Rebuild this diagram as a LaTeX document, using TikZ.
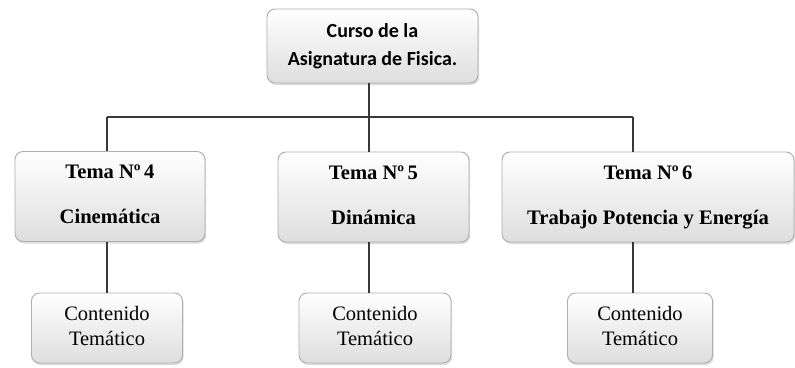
\documentclass[tikz,border=0pt]{standalone}
\usepackage{fontspec}
\setmainfont{Liberation Serif}
\setsansfont{Carlito}
\usepackage{tikz}
\usetikzlibrary{positioning,shadows,calc}
\colorlet{boxLine}{black!32}
\colorlet{boxTop}{white}
\colorlet{boxBottom}{black!13}
\colorlet{treeLine}{black!78}
\tikzset{
  % shared look of every box in the tree
  treebox/.style={
    rounded corners=8pt,
    draw=boxLine,
    line width=0.9pt,
    top color=boxTop,
    bottom color=boxBottom,
    drop shadow={shadow xshift=1.2pt,shadow yshift=-2pt,opacity=0.28},
    align=center,
    inner sep=2pt
  },
  rootbox/.style={
    treebox,
    minimum width=211pt,
    minimum height=74pt,
    font=\sffamily\bfseries\fontsize{20}{28}\selectfont
  },
  temabox/.style={
    treebox,
    minimum height=90pt,
    font=\rmfamily\bfseries\fontsize{20.6}{24}\selectfont
  },
  contbox/.style={
    treebox,
    minimum height=70pt,
    font=\rmfamily\fontsize{20.5}{25}\selectfont
  },
  link/.style={
    draw=treeLine,
    line width=1.2pt
  }
}

\begin{document}
\begin{tikzpicture}[x=1pt,y=-1pt]

\useasboundingbox (0,0) rectangle (795,367);

\node[rootbox] (curso) at (372.5,46) {\strut Curso de la\\\strut Asignatura de Fisica.};

\node[temabox, minimum width=190pt] (tema4) at (110,196.5) {\strut Tema Nº\,4\\[21pt]\strut Cinemática};
\node[temabox, minimum width=191pt] (tema5) at (373.5,197) {\strut Tema Nº\,5\\[21pt]\strut Dinámica};
\node[temabox, minimum width=292pt] (tema6) at (648,197) {\strut Tema Nº\,6\\[21pt]\strut Trabajo Potencia y Energía};

\node[contbox, minimum width=151pt] (cont4) at (107,328) {\strut Contenido\\\strut Temático};
\node[contbox, minimum width=152pt] (cont5) at (375,328) {\strut Contenido\\\strut Temático};
\node[contbox, minimum width=145pt] (cont6) at (640,328) {\strut Contenido\\\strut Temático};

% junctions on the horizontal bus
\coordinate (j4) at (107,117);
\coordinate (j5) at (369,117);
\coordinate (j6) at (633,117);

\draw[link] (curso.south -| j5) -- (j5);
\draw[link] (j4) -- (j6);
\draw[link] (j4) -- (j4 |- tema4.north);
\draw[link] (j5) -- (j5 |- tema5.north);
\draw[link] (j6) -- (j6 |- tema6.north);
\draw[link] (tema4.south -| j4) -- (cont4.north -| j4);
\draw[link] (tema5.south -| j5) -- (cont5.north -| j5);
\draw[link] (tema6.south -| j6) -- (cont6.north -| j6);

\end{tikzpicture}
\end{document}
